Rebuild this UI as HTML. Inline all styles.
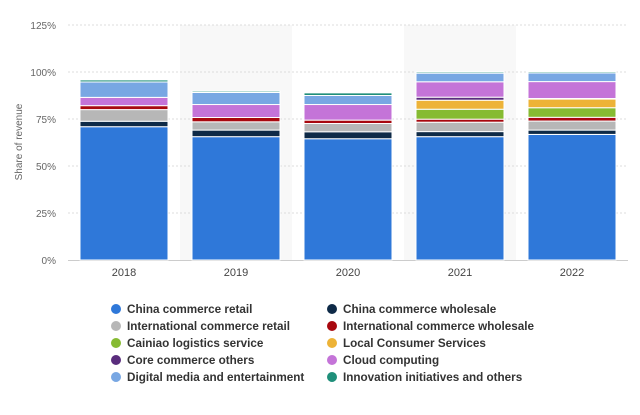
<!DOCTYPE html>
<html><head><meta charset="utf-8"><style>
body{margin:0;background:#fff;font-family:"Liberation Sans",sans-serif}
svg text{font-family:"Liberation Sans",sans-serif}
</style></head><body>
<svg id="c" width="640" height="410"></svg>
<script>
const years=["2018","2019","2020","2021","2022"];
const seriesNames=["China commerce retail","China commerce wholesale","International commerce retail","International commerce wholesale","Cainiao logistics service","Local Consumer Services","Core commerce others","Cloud computing","Digital media and entertainment","Innovation initiatives and others"];
const colors=["#2f78d9","#0e2a47","#b7b7b7","#a8080f","#86bb32","#edb337","#5a2d7d","#c474d8","#78a7e3","#1f8f7a"];
const retail=[70.9,65.6,64.5,65.6,66.8];
const wholesale=[2.9,3.5,3.7,2.7,2.3];
const intlRetail=[6.2,4.4,4.4,5.0,4.8];
const intlWholesale=[2.1,2.3,1.8,1.6,2.0];
const cainiao=[0,0,0,5.3,5.1];
const localServices=[0,0,0,4.8,4.6];
const coreOthers=[0,0,0,1.6,0.3];
const cloud=[4.4,6.9,8.3,8.2,9.0];
const digital=[8.2,6.4,4.8,4.6,4.6];
const innovation=[1.1,0.7,1.4,0.7,0.7];
const yTicks=[0,25,50,75,100,125];
const series=[retail,wholesale,intlRetail,intlWholesale,cainiao,localServices,coreOthers,cloud,digital,innovation];
const NS="http://www.w3.org/2000/svg",svg=document.getElementById('c');
function mk(t,a,p){const e=document.createElementNS(NS,t);for(const k in a)e.setAttribute(k,a[k]);(p||svg).appendChild(e);return e;}
const x0=68,x1=628,y0=260,pxPer=1.88;
const y=v=>y0-v*pxPer;
const bw=(x1-x0)/years.length;
const bx=i=>x0+i*bw;
years.forEach((yr,i)=>{if(i%2==1){const r=mk('rect',{x:bx(i),y:25,width:bw,height:y0-25,fill:'#f8f8f8'});

}});
yTicks.forEach(t=>{
 if(t>0){const l=mk('line',{x1:x0,x2:x1,y1:y(t),y2:y(t),stroke:'#ddd','stroke-dasharray':'2,2'});
 
 }
 const tx=mk('text',{x:56,y:y(t)+4,'text-anchor':'end','font-size':10,fill:'#666'});tx.textContent=t+'%';
 
 
});
const ax=mk('line',{x1:x0,x2:x1,y1:y0+0.5,y2:y0+0.5,stroke:'#ccc'});


const yt=mk('text',{x:22,y:142,'text-anchor':'middle','font-size':10,fill:'#666',transform:'rotate(-90 22 142)'});yt.textContent='Share of revenue';


years.forEach((yr,i)=>{
 let acc=0;const x=bx(i)+12,w=bw-24;
 series.forEach((s,k)=>{const v=s[i];if(v<=0)return;
  const r=mk('rect',{x:x,y:y(acc+v),width:w,height:v*pxPer,fill:colors[k],stroke:'#fff','stroke-width':1});
  
  
  acc+=v;});
 const t=mk('text',{x:bx(i)+bw/2,y:276,'text-anchor':'middle','font-size':11,fill:'#444'});t.textContent=yr;
 
 
});
seriesNames.forEach((n,k)=>{
 const col=k%2,row=Math.floor(k/2);const cx=col?332:116,cy=309+row*17;
 const g=mk('g',{});
 
 
 mk('circle',{cx:cx,cy:cy,r:5,fill:colors[k]},g);
 const t=mk('text',{x:cx+11,y:cy+4,'font-size':11.7,fill:'#333','font-weight':'bold'},g);t.textContent=n;
});
</script>
</body></html>
